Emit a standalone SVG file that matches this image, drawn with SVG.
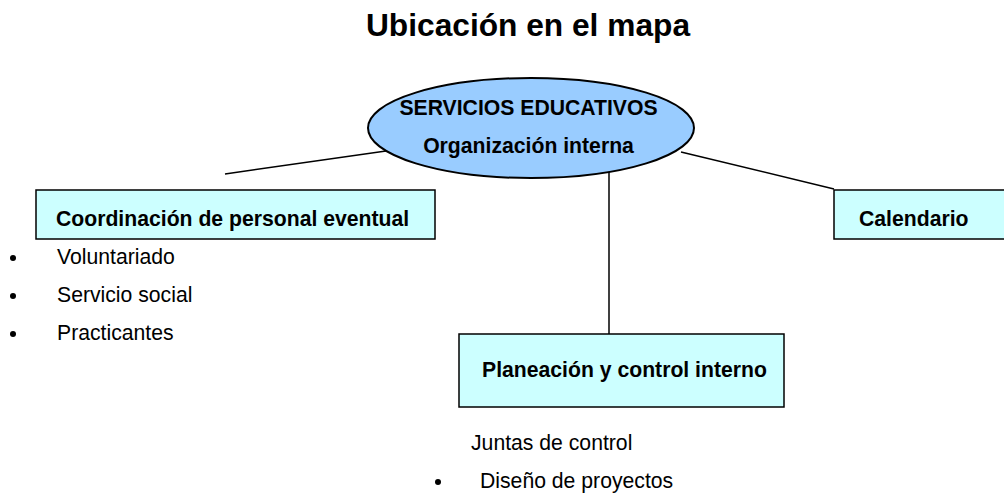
<svg xmlns="http://www.w3.org/2000/svg" width="1004" height="497" viewBox="0 0 1004 497">
<style>
text{font-family:"Liberation Sans",Arial,sans-serif;fill:#000}
.b{font-weight:bold;font-size:21.2px}
.r{font-size:21.2px}
.box{fill:#CCFFFF;stroke:#000;stroke-width:1.5}
.ln{stroke:#000;stroke-width:1.5;fill:none}
.dot{fill:#000}
</style>
<rect width="1004" height="497" fill="#fff"/>
<text x="528" y="36" text-anchor="middle" style="font-weight:bold;font-size:31.7px">Ubicación en el mapa</text>
<g id="connectors">
<line class="ln" x1="225" y1="174" x2="393" y2="150"/>
<line class="ln" x1="681" y1="152" x2="834" y2="189"/>
<line class="ln" x1="609" y1="170" x2="609" y2="334"/>
</g>
<g id="root">
<ellipse cx="531" cy="128" rx="163" ry="50" fill="#99CCFF" stroke="#000" stroke-width="2"/>
<text class="b" x="528.5" y="115" text-anchor="middle">SERVICIOS EDUCATIVOS</text>
<text class="b" x="528.5" y="153" text-anchor="middle">Organización interna</text>
</g>
<g id="coordinacion">
<rect class="box" x="36" y="190" width="399" height="49"/>
<text class="b" x="56" y="226">Coordinación de personal eventual</text>
<circle class="dot" cx="13" cy="258" r="3"/>
<text class="r" x="57" y="264">Voluntariado</text>
<circle class="dot" cx="13" cy="296" r="3"/>
<text class="r" x="57" y="302">Servicio social</text>
<circle class="dot" cx="13" cy="334" r="3"/>
<text class="r" x="57" y="340">Practicantes</text>
</g>
<g id="calendario">
<rect class="box" x="834" y="190" width="180" height="49"/>
<text class="b" x="859" y="226">Calendario</text>
</g>
<g id="planeacion">
<rect class="box" x="459" y="334" width="325" height="73"/>
<text class="b" x="482" y="377">Planeación y control interno</text>
<text class="r" x="471" y="450">Juntas de control</text>
<circle class="dot" cx="438" cy="482" r="3"/>
<text class="r" x="480" y="488">Diseño de proyectos</text>
</g>
</svg>
